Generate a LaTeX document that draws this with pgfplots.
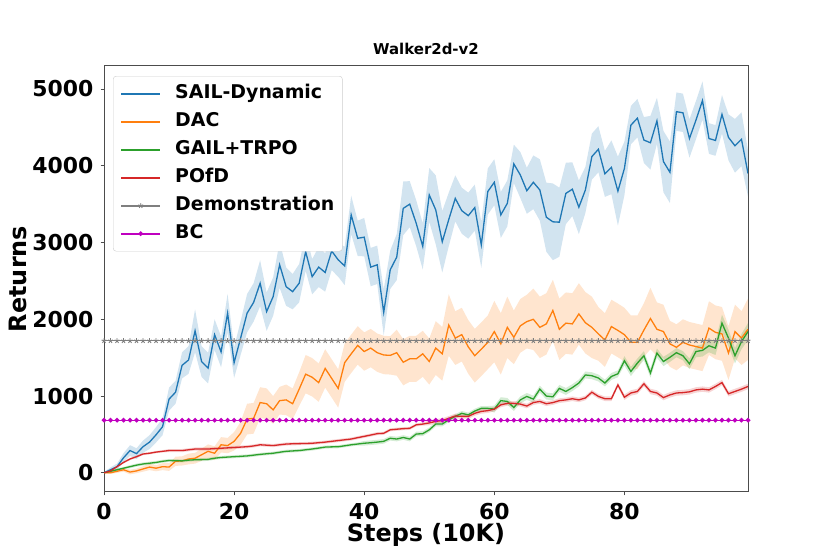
\documentclass[border=0pt]{standalone}
\usepackage{pgfplots}
\pgfplotsset{compat=1.18}
\usepackage{pgfplotstable}
\usepgfplotslibrary{fillbetween}
\usepackage{fontspec}
\setmainfont{DejaVu Sans}
\definecolor{tabblue}{HTML}{1F77B4}
\definecolor{taborange}{HTML}{FF7F0E}
\definecolor{tabgreen}{HTML}{2CA02C}
\definecolor{tabred}{HTML}{D62728}
\definecolor{tabgray}{HTML}{7F7F7F}
\definecolor{mplmagenta}{HTML}{BF00BF}
\pgfplotstableread{
x b bs o os g gs r rs d c
0 0 10 0 10 0 5 0 5 1720 685
1 40 30 0 15 20 10 25 8 1720 685
2 80 40 20 20 40 15 80 10 1720 685
3 195 60 40 25 60 15 135 12 1720 685
4 290 70 10 30 80 20 180 15 1720 685
5 250 70 25 30 100 20 210 15 1720 685
6 340 80 50 35 115 20 245 15 1720 685
7 400 90 75 40 125 20 255 15 1720 685
8 495 100 60 40 135 20 270 15 1720 685
9 600 110 80 45 150 20 280 15 1720 685
10 960 150 75 50 160 20 290 20 1720 685
11 1050 150 150 60 158 20 290 20 1720 685
12 1400 170 155 60 155 20 290 20 1720 685
13 1470 180 180 70 165 20 300 20 1720 685
14 1850 280 190 70 170 20 310 20 1720 685
15 1450 200 235 80 172 20 310 20 1720 685
16 1365 200 280 90 175 20 310 20 1720 685
17 1800 200 255 90 190 20 315 20 1720 685
18 1575 200 365 100 200 20 320 20 1720 685
19 2080 250 355 100 205 20 325 20 1720 685
20 1435 200 410 120 210 20 330 20 1720 685
21 1755 220 515 150 215 20 335 20 1720 685
22 2080 250 700 200 220 20 340 20 1720 685
23 2220 250 710 200 230 20 350 20 1720 685
24 2470 300 915 200 240 20 365 20 1720 685
25 2100 250 900 200 248 20 360 20 1720 685
26 2295 250 820 180 255 20 355 20 1720 685
27 2710 300 940 180 268 20 365 20 1720 685
28 2425 250 950 200 280 20 375 20 1720 685
29 2360 230 900 200 285 20 378 20 1720 685
30 2470 250 1090 220 290 20 380 20 1720 685
31 2880 250 1285 250 300 20 382 20 1720 685
32 2555 230 1245 250 310 20 385 20 1720 685
33 2680 260 1175 250 322 20 392 20 1720 685
34 2610 250 1360 250 335 20 400 20 1720 685
35 2890 250 1230 250 338 20 410 20 1720 685
36 2775 220 1100 250 340 20 420 20 1720 685
37 2695 250 1435 250 352 20 430 20 1720 685
38 3360 250 1550 250 365 20 440 20 1720 685
39 3055 230 1660 250 375 20 458 20 1720 685
40 3070 250 1580 250 385 30 475 20 1720 685
41 2680 250 1625 250 392 30 492 20 1720 685
42 2710 250 1565 250 400 30 510 20 1720 685
43 2090 300 1535 250 410 30 515 20 1720 685
44 2645 250 1530 250 450 30 560 20 1720 685
45 2810 300 1565 300 440 30 568 20 1720 685
46 3445 350 1440 300 460 30 575 20 1720 685
47 3500 300 1485 300 440 30 580 20 1720 685
48 3250 300 1485 300 505 30 625 20 1720 685
49 2950 300 1550 300 510 30 635 20 1720 685
50 3620 350 1450 300 560 30 650 30 1720 685
51 3425 450 1625 350 635 30 670 30 1720 685
52 3010 400 1550 350 635 30 680 30 1720 685
53 3300 350 1925 400 690 30 710 30 1720 685
54 3575 300 1755 350 735 30 740 30 1720 685
55 3415 300 1800 350 775 30 735 30 1720 685
56 3350 300 1640 350 755 30 735 30 1720 685
57 3455 300 1525 350 805 30 775 30 1720 685
58 2970 300 1610 350 840 30 800 30 1720 685
59 3665 300 1700 350 840 30 810 30 1720 685
60 3785 300 1840 400 830 45 830 30 1720 685
61 3360 300 1680 400 940 45 885 30 1720 685
62 3510 300 1895 400 930 45 905 30 1720 685
63 4025 250 1765 350 850 45 905 30 1720 685
64 3880 300 1915 350 950 45 895 30 1720 685
65 3675 300 1970 350 995 45 870 30 1720 685
66 3785 350 2000 400 960 45 915 30 1720 685
67 3685 400 1895 400 1090 45 930 30 1720 685
68 3330 450 1940 400 1000 45 900 30 1720 685
69 3270 500 2115 400 990 45 915 30 1720 685
70 3265 450 1870 400 1100 45 940 30 1720 685
71 3640 400 1950 400 1060 45 950 30 1720 685
72 3695 350 1940 400 1110 45 965 30 1720 685
73 3460 350 2070 400 1170 45 950 30 1720 685
74 3685 300 1955 400 1275 45 975 30 1720 685
75 4120 300 1895 400 1265 45 1050 30 1720 685
76 4215 300 1810 350 1235 45 995 30 1720 685
77 3895 300 1730 350 1170 45 965 30 1720 685
78 3980 350 1905 350 1255 45 965 30 1720 685
79 3670 450 1855 350 1290 45 1145 30 1720 685
80 3965 350 1800 350 1460 60 985 35 1720 685
81 4530 250 1700 350 1320 60 1040 35 1720 685
82 4620 250 1700 350 1430 60 1060 35 1720 685
83 4335 300 1860 350 1525 60 1160 35 1720 685
84 4300 350 2010 400 1300 60 1060 35 1720 685
85 4585 300 1870 350 1560 60 1040 35 1720 685
86 4055 400 1840 350 1450 60 980 35 1720 685
87 3915 400 1680 300 1505 60 1015 35 1720 685
88 4705 250 1635 300 1565 60 1040 35 1720 685
89 4690 250 1700 300 1525 60 1045 35 1720 685
90 4355 250 1665 300 1420 70 1055 35 1720 685
91 4595 250 1645 300 1580 75 1080 35 1720 685
92 4850 250 1625 300 1595 80 1090 35 1720 685
93 4355 200 1885 350 1655 85 1080 35 1720 685
94 4330 200 1830 350 1625 90 1125 35 1720 685
95 4670 250 1810 350 1950 110 1175 35 1720 685
96 4370 300 1560 350 1755 110 1030 35 1720 685
97 4260 350 1840 350 1525 100 1060 35 1720 685
98 4345 350 1755 350 1710 100 1090 35 1720 685
99 3900 300 1870 400 1840 110 1125 35 1720 685
}\data
\begin{document}
\begin{tikzpicture}
\begin{axis}[
  at={(104bp,62bp)}, anchor=south west,
  scale only axis, width=644bp, height=426bp,
  xmin=0, xmax=99, ymin=-250, ymax=5300,
  axis line style={black!70, line width=1bp},
  xtick={0,20,40,60,80}, xticklabels={0,20,40,60,80},
  ytick={0,1000,2000,3000,4000,5000}, yticklabels={0,1000,2000,3000,4000,5000},
  tick align=outside, tick pos=left,
  major tick length=3.5bp,
  tick style={black!70, line width=0.8bp},
  ticklabel style={font=\bfseries\fontsize{22}{26}\selectfont, inner sep=0pt},
  xticklabel style={anchor=north, yshift=-8bp},
  yticklabel style={anchor=east, xshift=-7bp},
  title={Walker2d-v2},
  title style={font=\bfseries\fontsize{15}{17}\selectfont, at={(axis description cs:0.5,1.0124)}, anchor=base, inner sep=0pt},
  xlabel={Steps (10K)},
  xlabel style={font=\bfseries\fontsize{24}{28}\selectfont, at={(axis description cs:0.5,-0.1167)}, anchor=base, inner sep=0pt},
  ylabel={Returns},
  ylabel style={font=\bfseries\fontsize{24}{28}\selectfont, at={(axis description cs:-0.1196,0.5)}, anchor=base, inner sep=0pt},
  legend style={at={(axis description cs:0.014,0.9765)}, anchor=north west,
    draw=black!20, rounded corners=3bp, fill=white,
    font=\bfseries\fontsize{19}{22}\selectfont, inner xsep=8bp, inner ysep=8bp,
    row sep=9bp, column sep=15bp,
    nodes={inner sep=0pt, text height=14bp, text depth=5bp}},
  legend cell align=left,
  legend image code/.code={
    \fill[#1, draw=none, sharp corners] (0bp,-0.8bp) rectangle (39bp,0.8bp);
    \path[#1, sharp corners] plot[only marks] coordinates {(19.5bp,0bp)};},
]
% bands
\addplot[draw=none, name path=bU, forget plot] table[x=x, y expr=\thisrow{b}+\thisrow{bs}] {\data};
\addplot[draw=none, name path=bL, forget plot] table[x=x, y expr=\thisrow{b}-\thisrow{bs}] {\data};
\addplot[fill=tabblue, fill opacity=0.2, draw=none, forget plot] fill between[of=bU and bL];
\addplot[draw=none, name path=oU, forget plot] table[x=x, y expr=\thisrow{o}+\thisrow{os}] {\data};
\addplot[draw=none, name path=oL, forget plot] table[x=x, y expr=\thisrow{o}-\thisrow{os}] {\data};
\addplot[fill=taborange, fill opacity=0.2, draw=none, forget plot] fill between[of=oU and oL];
\addplot[draw=none, name path=gU, forget plot] table[x=x, y expr=\thisrow{g}+\thisrow{gs}] {\data};
\addplot[draw=none, name path=gL, forget plot] table[x=x, y expr=\thisrow{g}-\thisrow{gs}] {\data};
\addplot[fill=tabgreen, fill opacity=0.2, draw=none, forget plot] fill between[of=gU and gL];
\addplot[draw=none, name path=rU, forget plot] table[x=x, y expr=\thisrow{r}+\thisrow{rs}] {\data};
\addplot[draw=none, name path=rL, forget plot] table[x=x, y expr=\thisrow{r}-\thisrow{rs}] {\data};
\addplot[fill=tabred, fill opacity=0.2, draw=none, forget plot] fill between[of=rU and rL];
% lines
\addplot[color=tabblue, line width=1.3bp, no marks] table[x=x, y=b] {\data};
\addlegendentry{SAIL-Dynamic}
\addplot[color=taborange, line width=1.3bp, no marks] table[x=x, y=o] {\data};
\addlegendentry{DAC}
\addplot[color=tabgreen, line width=1.3bp, no marks] table[x=x, y=g] {\data};
\addlegendentry{GAIL+TRPO}
\addplot[color=tabred, line width=1.3bp, no marks] table[x=x, y=r] {\data};
\addlegendentry{POfD}
\addplot[color=tabgray, line width=1.3bp, mark=star, mark size=2.6bp, mark options={line width=0.9bp}] table[x=x, y=d] {\data};
\addlegendentry{Demonstration}
\addplot[color=mplmagenta, line width=1.3bp, mark=*, mark size=1.6bp] table[x=x, y=c] {\data};
\addlegendentry{BC}
\end{axis}
\path (0,0) rectangle (830bp,554bp);
\end{tikzpicture}
\end{document}
